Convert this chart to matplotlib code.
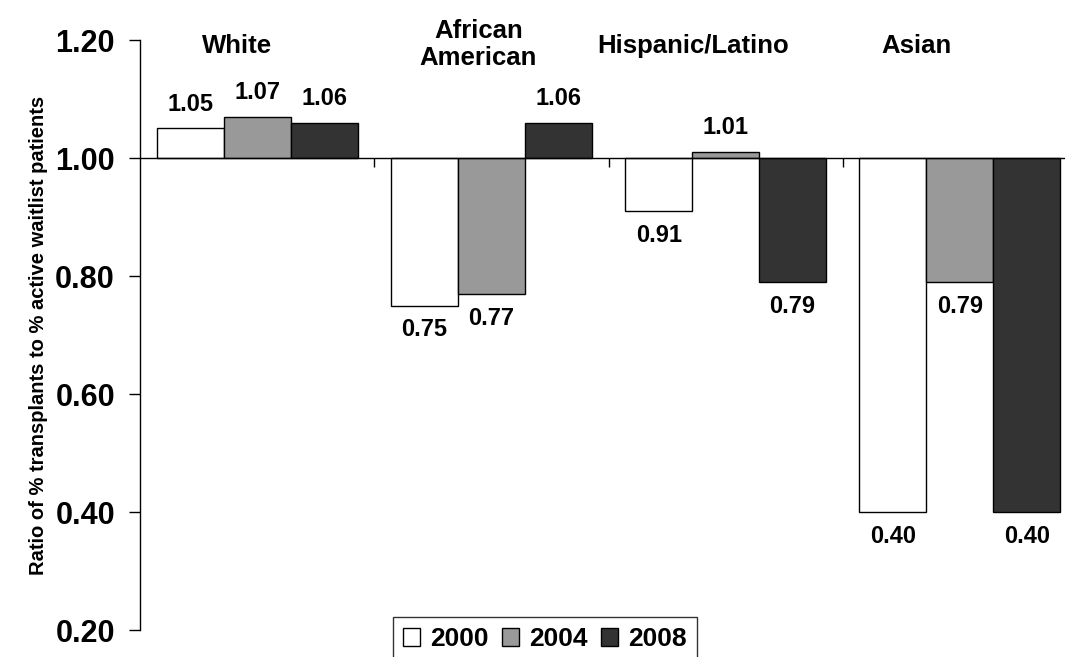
import numpy as np
import matplotlib.pyplot as plt

plt.rcParams['font.family'] = ['Liberation Sans', 'DejaVu Sans']
plt.rcParams['font.weight'] = 'bold'

groups = ["White", "African\nAmerican", "Hispanic/Latino", "Asian"]
years = ["2000", "2004", "2008"]
vals_2000 = [1.05, 0.75, 0.91, 0.40]
vals_2004 = [1.07, 0.77, 1.01, 0.79]
vals_2008 = [1.06, 1.06, 0.79, 0.40]
colors = ["white", "#999999", "#333333"]

fig = plt.figure(figsize=(10.65, 6.57), dpi=100)
ax = fig.add_axes([140 / 1065, 27 / 657, 937 / 1065, 590 / 657])

x = np.arange(len(groups))
w = 0.286
series = [vals_2000, vals_2004, vals_2008]
for i, (vals, c, yr) in enumerate(zip(series, colors, years)):
    pos = x + (i - 1) * w
    heights = np.array(vals) - 1.0
    ax.bar(pos, heights, w, bottom=1.0, color=c, edgecolor='black',
           linewidth=1.0, label=yr)
    for p, v in zip(pos, vals):
        if v >= 1.0:
            ax.text(p, v + 0.022, f"{v:.2f}", ha='center', va='bottom',
                    fontsize=17, fontweight='bold')
        else:
            ax.text(p, v - 0.022, f"{v:.2f}", ha='center', va='top',
                    fontsize=17, fontweight='bold')

ax.axhline(1.0, color='black', linewidth=1.0)
ax.vlines(x[:-1] + 0.5, 0.985, 1.0, color='black', linewidth=1.0)

title_x = [-0.085, -0.056, -0.137, -0.184]
title_y = [1.19, 1.193, 1.19, 1.19]
for gx, gy, name, off in zip(x, title_y, groups, title_x):
    ax.text(gx + off, gy, name, ha='center', va='center', fontsize=18.5,
            fontweight='bold', linespacing=1.15)

ax.set_xlim(-0.5, 3.5)
ax.set_ylim(0.2, 1.2)
ax.set_yticks([0.2, 0.4, 0.6, 0.8, 1.0, 1.2])
ax.set_yticklabels([f"{t:.2f}" for t in [0.2, 0.4, 0.6, 0.8, 1.0, 1.2]],
                   fontsize=22, fontweight='bold')
ax.tick_params(axis='y', direction='out', length=8, width=1, pad=10)
ax.set_xticks([])
for s in ['top', 'right', 'bottom']:
    ax.spines[s].set_visible(False)
ax.spines['left'].set_linewidth(1.0)
ax.set_ylabel("Ratio of % transplants to % active waitlist patients",
              fontsize=14.5, fontweight='bold', labelpad=5)

leg = ax.legend(loc='upper left', bbox_to_anchor=(0.27, 0.022), ncol=3,
                frameon=True, fancybox=False, edgecolor='black',
                prop={'size': 19, 'weight': 'bold'}, handlelength=0.65,
                handleheight=0.65, handletextpad=0.38, columnspacing=0.5,
                borderaxespad=0, borderpad=0.38)
leg.get_frame().set_linewidth(1.0)

fig.savefig("out.png", dpi=100)
